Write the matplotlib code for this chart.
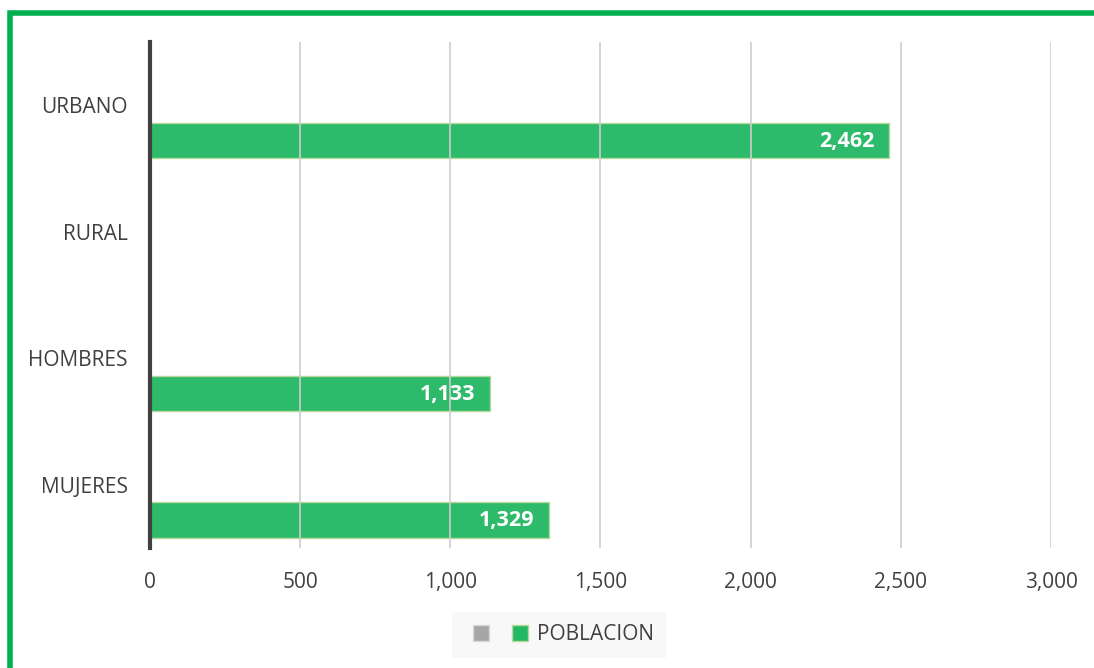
import matplotlib.pyplot as plt
from matplotlib.lines import Line2D
from matplotlib.patches import Rectangle

plt.rcParams['font.family'] = ['Open Sans', 'DejaVu Sans']

categorias = ['URBANO', 'RURAL', 'HOMBRES', 'MUJERES']
poblacion = [2462, 0, 1133, 1329]
serie_vacia = [0, 0, 0, 0]
xticks = [0, 500, 1000, 1500, 2000, 2500, 3000]

verde = '#24B865'

fig = plt.figure(figsize=(10.94, 6.68), dpi=100)
ax = fig.add_axes([0.1371, 0.1796, 0.8236, 0.7575])

pos = list(range(len(categorias)))
ax.barh([p + 0.28 for p in pos], poblacion, height=0.28, color=verde,
        edgecolor='#B9D99B', linewidth=1, alpha=0.96, zorder=1)

# etiquetas de valor dentro de la barra
for p, v in zip(pos, poblacion):
    if v > 0:
        ax.text(v - 50, p + 0.285, f'{v:,}', ha='right', va='center',
                color='white', fontsize=15.5, fontweight='bold', zorder=3)

ax.set_xlim(0, 3000)
ax.set_ylim(3.5, -0.5)
ax.set_xticks(xticks)
ax.set_xticklabels([f'{t:,}' for t in xticks])
ax.set_yticks(pos)
ax.set_yticklabels(categorias)
ax.tick_params(axis='both', length=0, labelsize=15, colors='#404040')
ax.tick_params(axis='x', pad=17)
ax.tick_params(axis='y', pad=16)

ax.grid(axis='x', color='#cdcdcd', linewidth=1.2, zorder=0)
for s in ['top', 'right', 'bottom']:
    ax.spines[s].set_visible(False)
ax.spines['left'].set_color('#404040')
ax.spines['left'].set_linewidth(3)
ax.spines['left'].set_zorder(4)

handles = [Line2D([], [], marker='s', linestyle='', markersize=11,
                  markerfacecolor='#a6a6a6', markeredgecolor='#d9d9d9'),
           Line2D([], [], marker='s', linestyle='', markersize=11,
                  markerfacecolor=verde, markeredgecolor='#B9D99B')]
leg = fig.legend(handles, ['', 'POBLACION'], loc='center',
                 bbox_to_anchor=(559 / 1094, 1 - 635 / 668), ncol=2,
                 frameon=True, facecolor='#f7f7f7', edgecolor='none',
                 fontsize=15, handletextpad=0.0, columnspacing=0.3,
                 handlelength=1.6, borderpad=0.6, fancybox=False)
for t in leg.get_texts():
    t.set_color('#404040')

# marco verde
fig.patches.append(Rectangle((10 / 1094, -0.2), 1.2, 1.2 - 12.5 / 668,
                             transform=fig.transFigure, fill=False,
                             edgecolor='#00B050', linewidth=4))

fig.savefig('out.png', dpi=100)
